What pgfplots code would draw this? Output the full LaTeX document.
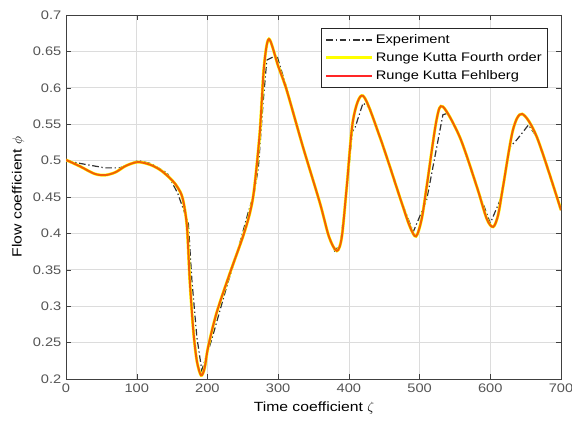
\documentclass[border=0pt]{standalone}
\usepackage{fontspec}
\setmainfont{Liberation Sans}[FakeStretch=1.18]
\usepackage{pgfplots}
\pgfplotsset{compat=1.18}
\definecolor{cAxis}{HTML}{404040}
\definecolor{cTick}{HTML}{555555}
\definecolor{cGrid}{HTML}{DCDCDC}
\definecolor{cYel}{HTML}{FFFF00}
\definecolor{cOra}{HTML}{F26005}
\definecolor{cRedLeg}{HTML}{F03C4B}

\begin{document}
\begin{tikzpicture}
\begin{axis}[
    scale only axis, width=371.25pt, height=273pt,
    xmin=0, xmax=700, ymin=0.2, ymax=0.7,
    xtick={0,100,...,700},
    ytick={0.2,0.25,...,0.71},
    yticklabel style={/pgf/number format/fixed,/pgf/number format/precision=2},
    /pgf/number format/assume math mode=true,
    tick label style={font=\fontsize{9.3}{11}\selectfont, text=cTick},
    label style={font=\fontsize{10.5}{12}\selectfont, text=cAxis},
    xlabel={Time coefficient $\zeta$},
    ylabel={Flow coefficient $\phi$},
    every axis x label/.style={at={(axis description cs:0.501,-0.08)}, anchor=center},
    every axis y label/.style={at={(axis description cs:-0.097,0.5)}, rotate=90, anchor=center},
    grid=major, major grid style={cGrid, line width=0.5pt},
    axis line style={cAxis, line width=0.7pt},
    tick style={cAxis}, tick align=inside, major tick length=4pt,
    legend style={at={(0.974,0.964)}, anchor=north east, draw=black!85,
      font=\fontsize{9.3}{11}\selectfont, row sep=1.2pt, inner sep=2.5pt,
      line width=0.6pt, cells={anchor=west}},
    legend image code/.code={\draw[#1] (0pt,0pt) -- (34pt,0pt);},
]
\addplot[black!80, line width=0.9pt, dash pattern=on 5pt off 2pt on 1pt off 2pt] coordinates {
(0,0.5) (15,0.497) (55,0.49) (76,0.49) (102,0.5) (120,0.496) (143,0.483)
(158,0.455) (173,0.414) (178,0.336) (185,0.258) (192,0.212) (206,0.254)
(227,0.326) (243,0.377) (258,0.43) (266,0.455) (272,0.49) (279,0.583)
(284,0.638) (298,0.645) (312,0.6) (335,0.52) (359,0.442) (372,0.395)
(380,0.376) (388,0.385) (397,0.46) (405,0.54) (409,0.546) (420,0.579)
(430,0.572) (444,0.532) (472,0.45) (491,0.402) (510,0.446) (533,0.563)
(540,0.565) (557,0.532) (581,0.464) (600,0.414) (614,0.446) (628,0.519)
(637,0.528) (654,0.549) (666,0.532) (700,0.432)};
\addlegendentry{Experiment}
\addplot[cYel, line width=2.2pt, smooth, tension=0.5] coordinates {
(0,0.501) (20,0.492) (40,0.482) (55,0.480) (70,0.484) (85,0.493) (102,0.498)
(120,0.494) (135,0.486) (150,0.473) (158,0.463) (165,0.448) (171,0.41)
(175,0.336) (180,0.267) (185,0.225) (191,0.205) (196,0.215) (201,0.244)
(213,0.291) (232,0.346) (250,0.395) (260,0.428) (266,0.46) (274,0.538)
(280,0.629) (287,0.667) (300,0.63) (312,0.597) (335,0.519) (359,0.442)
(372,0.395) (383,0.376) (390,0.395) (397,0.464) (406,0.556) (420,0.589)
(444,0.532) (472,0.45) (486,0.41) (495,0.396) (503,0.42) (510,0.464)
(524,0.556) (533,0.574) (557,0.532) (581,0.464) (595,0.42) (604,0.409)
(611,0.425) (618,0.464) (632,0.542) (645,0.564) (666,0.532) (700,0.432)};
\addlegendentry{Runge Kutta Fourth order}
\addplot[cOra, line width=1.5pt, smooth, tension=0.5, forget plot] coordinates {
(0,0.501) (20,0.492) (40,0.482) (55,0.480) (70,0.484) (85,0.493) (102,0.498)
(120,0.494) (135,0.486) (150,0.473) (158,0.463) (165,0.448) (171,0.41)
(175,0.336) (180,0.267) (185,0.225) (191,0.205) (196,0.215) (201,0.244)
(213,0.291) (232,0.346) (250,0.395) (260,0.428) (266,0.46) (274,0.538)
(280,0.629) (287,0.667) (300,0.63) (312,0.597) (335,0.519) (359,0.442)
(372,0.395) (383,0.376) (390,0.395) (397,0.464) (406,0.556) (420,0.589)
(444,0.532) (472,0.45) (486,0.41) (495,0.396) (503,0.42) (510,0.464)
(524,0.556) (533,0.574) (557,0.532) (581,0.464) (595,0.42) (604,0.409)
(611,0.425) (618,0.464) (632,0.542) (645,0.564) (666,0.532) (700,0.432)};
\addlegendimage{draw=red!85!white, color=red!85!white, line width=1.1pt}
\addlegendentry{Runge Kutta Fehlberg}
\end{axis}
\pgfresetboundingbox
\useasboundingbox (current axis.south west) ++(-49.5pt,-33.75pt) rectangle ([shift={(8.25pt,11.25pt)}]current axis.north east);
\end{tikzpicture}
\end{document}
